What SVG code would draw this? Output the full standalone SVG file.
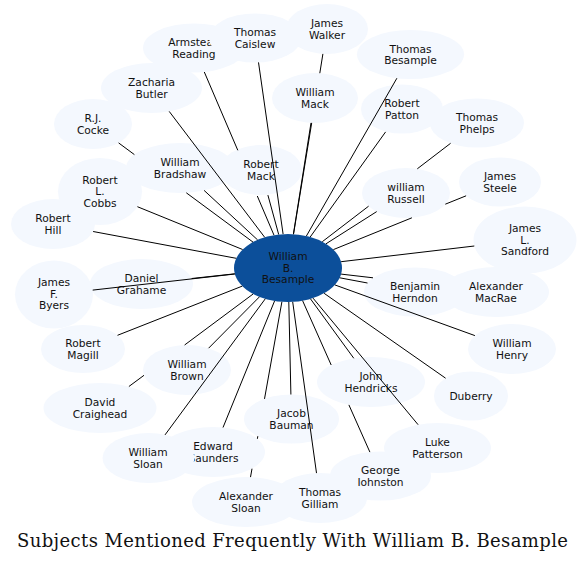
<svg xmlns="http://www.w3.org/2000/svg" width="588" height="563" viewBox="0 0 588 563">
<style>
.n ellipse{fill:#f4f8fe;stroke:none}
.n text,.c text{font-family:"DejaVu Sans","Liberation Sans",sans-serif;font-size:10.67px;text-anchor:middle;fill:#111}
.c ellipse{fill:#0c4f9a;stroke:none}
.e path{stroke:#000;stroke-width:1;fill:none}
.t{font-family:"DejaVu Serif","Liberation Serif",serif;font-size:18px;fill:#111}
</style>
<rect width="588" height="563" fill="#fff"/>
<g id="nodes">
<g id="n1" class="n"><ellipse cx="194" cy="48" rx="51" ry="24.5"/><text x="194" y="46">Armstead<tspan x="194" dy="11.7">Reading</tspan></text></g>
<g id="n2" class="n"><ellipse cx="255" cy="38" rx="46" ry="24.5"/><text x="255" y="36">Thomas<tspan x="255" dy="11.7">Caislew</tspan></text></g>
<g id="n3" class="n"><ellipse cx="327" cy="29" rx="41" ry="25"/><text x="327" y="27">James<tspan x="327" dy="11.7">Walker</tspan></text></g>
<g id="n4" class="n"><ellipse cx="410.5" cy="54.5" rx="53.5" ry="24.5"/><text x="410.5" y="52.5">Thomas<tspan x="410.5" dy="11.7">Besample</tspan></text></g>
<g id="n5" class="n"><ellipse cx="315" cy="98" rx="43" ry="25"/><text x="315" y="96">William<tspan x="315" dy="11.7">Mack</tspan></text></g>
<g id="n6" class="n"><ellipse cx="402" cy="109" rx="41" ry="24.5"/><text x="402" y="107">Robert<tspan x="402" dy="11.7">Patton</tspan></text></g>
<g id="n7" class="n"><ellipse cx="477" cy="123" rx="47" ry="24.5"/><text x="477" y="121">Thomas<tspan x="477" dy="11.7">Phelps</tspan></text></g>
<g id="n8" class="n"><ellipse cx="406" cy="193" rx="44" ry="25"/><text x="406" y="191">william<tspan x="406" dy="11.7">Russell</tspan></text></g>
<g id="n9" class="n"><ellipse cx="500" cy="182" rx="41" ry="24.5"/><text x="500" y="180">James<tspan x="500" dy="11.7">Steele</tspan></text></g>
<g id="n10" class="n"><ellipse cx="525" cy="240" rx="51.5" ry="33.5"/><text x="525" y="232">James<tspan x="525" dy="11.7">L.</tspan><tspan x="525" dy="11.7">Sandford</tspan></text></g>
<g id="n11" class="n"><ellipse cx="415" cy="292" rx="51" ry="24.5"/><text x="415" y="290">Benjamin<tspan x="415" dy="11.7">Herndon</tspan></text></g>
<g id="n12" class="n"><ellipse cx="496" cy="292" rx="53" ry="25"/><text x="496" y="290">Alexander<tspan x="496" dy="11.7">MacRae</tspan></text></g>
<g id="n13" class="n"><ellipse cx="512" cy="349" rx="44" ry="25"/><text x="512" y="347">William<tspan x="512" dy="11.7">Henry</tspan></text></g>
<g id="n14" class="n"><ellipse cx="471" cy="396" rx="37" ry="24.5"/><text x="471" y="399.8">Duberry</text></g>
<g id="n15" class="n"><ellipse cx="437.5" cy="448" rx="53.5" ry="25"/><text x="437.5" y="446">Luke<tspan x="437.5" dy="11.7">Patterson</tspan></text></g>
<g id="n16" class="n"><ellipse cx="371" cy="382" rx="54" ry="25"/><text x="371" y="380">John<tspan x="371" dy="11.7">Hendricks</tspan></text></g>
<g id="n18" class="n"><ellipse cx="320" cy="498" rx="47" ry="25"/><text x="320" y="496">Thomas<tspan x="320" dy="11.7">Gilliam</tspan></text></g>
<g id="n17" class="n"><ellipse cx="380.5" cy="476" rx="50.5" ry="24.5"/><text x="380.5" y="474">George<tspan x="380.5" dy="11.7">Iohnston</tspan></text></g>
<g id="n19" class="n"><ellipse cx="291.5" cy="419" rx="47.5" ry="24.5"/><text x="291.5" y="417">Jacob<tspan x="291.5" dy="11.7">Bauman</tspan></text></g>
<g id="n20" class="n"><ellipse cx="246" cy="502" rx="54" ry="25"/><text x="246" y="500">Alexander<tspan x="246" dy="11.7">Sloan</tspan></text></g>
<g id="n21" class="n"><ellipse cx="213" cy="452" rx="52" ry="25"/><text x="213" y="450">Edward<tspan x="213.5" dy="11.7">Saunders</tspan></text></g>
<g id="n22" class="n"><ellipse cx="148.5" cy="458" rx="46" ry="25"/><text x="148" y="456">William<tspan x="148" dy="11.7">Sloan</tspan></text></g>
<g id="n23" class="n"><ellipse cx="100" cy="408" rx="56.5" ry="25"/><text x="100" y="406">David<tspan x="100" dy="11.7">Craighead</tspan></text></g>
<g id="n24" class="n"><ellipse cx="187" cy="370" rx="44" ry="25"/><text x="187" y="368">William<tspan x="187" dy="11.7">Brown</tspan></text></g>
<g id="n25" class="n"><ellipse cx="83" cy="349" rx="42" ry="24"/><text x="83" y="347">Robert<tspan x="83" dy="11.7">Magill</tspan></text></g>
<g id="n26" class="n"><ellipse cx="54" cy="294.5" rx="39" ry="34"/><text x="54" y="286">James<tspan x="54" dy="11.7">F.</tspan><tspan x="54" dy="11.7">Byers</tspan></text></g>
<g id="n27" class="n"><ellipse cx="141.5" cy="284" rx="51.5" ry="25"/><text x="141.5" y="282">Daniel<tspan x="141.5" dy="11.7">Grahame</tspan></text></g>
<g id="n28" class="n"><ellipse cx="53" cy="224" rx="42" ry="25"/><text x="53" y="222">Robert<tspan x="53" dy="11.7">Hill</tspan></text></g>
<g id="n29" class="n"><ellipse cx="100" cy="191.5" rx="42" ry="33.5"/><text x="100" y="183.5">Robert<tspan x="100" dy="11.7">L.</tspan><tspan x="100" dy="11.7">Cobbs</tspan></text></g>
<g id="n30" class="n"><ellipse cx="93" cy="124" rx="39" ry="25"/><text x="93" y="122">R.J.<tspan x="93" dy="11.7">Cocke</tspan></text></g>
<g id="n31" class="n"><ellipse cx="151.5" cy="88" rx="50.5" ry="25"/><text x="151.5" y="86">Zacharia<tspan x="151.5" dy="11.7">Butler</tspan></text></g>
<g id="n32" class="n"><ellipse cx="180" cy="168" rx="54" ry="25"/><text x="180" y="166">William<tspan x="180" dy="11.7">Bradshaw</tspan></text></g>
<g id="n33" class="n"><ellipse cx="261" cy="170" rx="41" ry="25"/><text x="261" y="168">Robert<tspan x="261" dy="11.7">Mack</tspan></text></g>
<g id="center" class="c"><ellipse cx="288" cy="268" rx="54" ry="34"/><text x="288" y="260">William<tspan x="288" dy="11.7">B.</tspan><tspan x="288" dy="11.7">Besample</tspan></text></g>
</g>
<g id="connectors" class="e">
<path d="M204.3 72L237.8 150.3M257.3 196L274 235.2"/>
<path d="M258.5 62.4L283.1 234.1"/>
<path d="M322.9 53.9L319.8 73.2M311.7 122.9L293.5 234.2"/>
<path d="M396.9 78.2L306.4 236"/>
<path d="M311 122.9L293.4 234.2"/>
<path d="M385.6 131.9L310.2 237"/>
<path d="M450.6 143.3L417.3 168.8M368.6 206.2L322.3 241.7"/>
<path d="M376.7 211.6L326 243.8"/>
<path d="M466.1 195.8L445.3 204.2M411.9 217.8L333.4 249.6"/>
<path d="M474.3 246L341.1 261.7"/>
<path d="M367.5 283L339.7 277.8"/>
<path d="M373 277.8L341.1 274.1"/>
<path d="M474.9 335.6L334.8 284.9"/>
<path d="M445.6 378.2L324.1 293.3"/>
<path d="M418.1 424.7L313 298.1"/>
<path d="M353.8 358.3L310.5 298.9"/>
<path d="M369.9 452.1L348.9 404.9M331.2 365L302.6 300.7"/>
<path d="M316.5 473.1L292.7 301.9"/>
<path d="M290.9 394.5L288.8 302"/>
<path d="M250.5 477.1L252 468.7M257.4 438.8L257.8 436.2M264.5 398.9L281.9 301.8"/>
<path d="M223 427.5L274.6 300.9"/>
<path d="M165 434.9L265.3 298.8"/>
<path d="M128.9 386.5L144 375.3M184.6 345L253.1 294"/>
<path d="M208.6 348.2L259.4 296.9"/>
<path d="M117.5 335.3L242.3 286.1"/>
<path d="M92.7 290.1L234.9 274"/>
<path d="M191.7 278.5L234.8 273.8"/>
<path d="M93.1 231.5L236.2 258.3"/>
<path d="M137.4 206.7L242.6 249.5"/>
<path d="M118.6 142.9L134.4 154.6M186.3 192.8L253 242.1"/>
<path d="M169.2 111.4L264.7 237.3"/>
<path d="M204.1 190.4L257.6 239.9"/>
<path d="M267.9 195.1L278.7 234.5"/>
</g>
<text class="t" x="17" y="547" textLength="551" lengthAdjust="spacing">Subjects Mentioned Frequently With William B. Besample</text>
</svg>
